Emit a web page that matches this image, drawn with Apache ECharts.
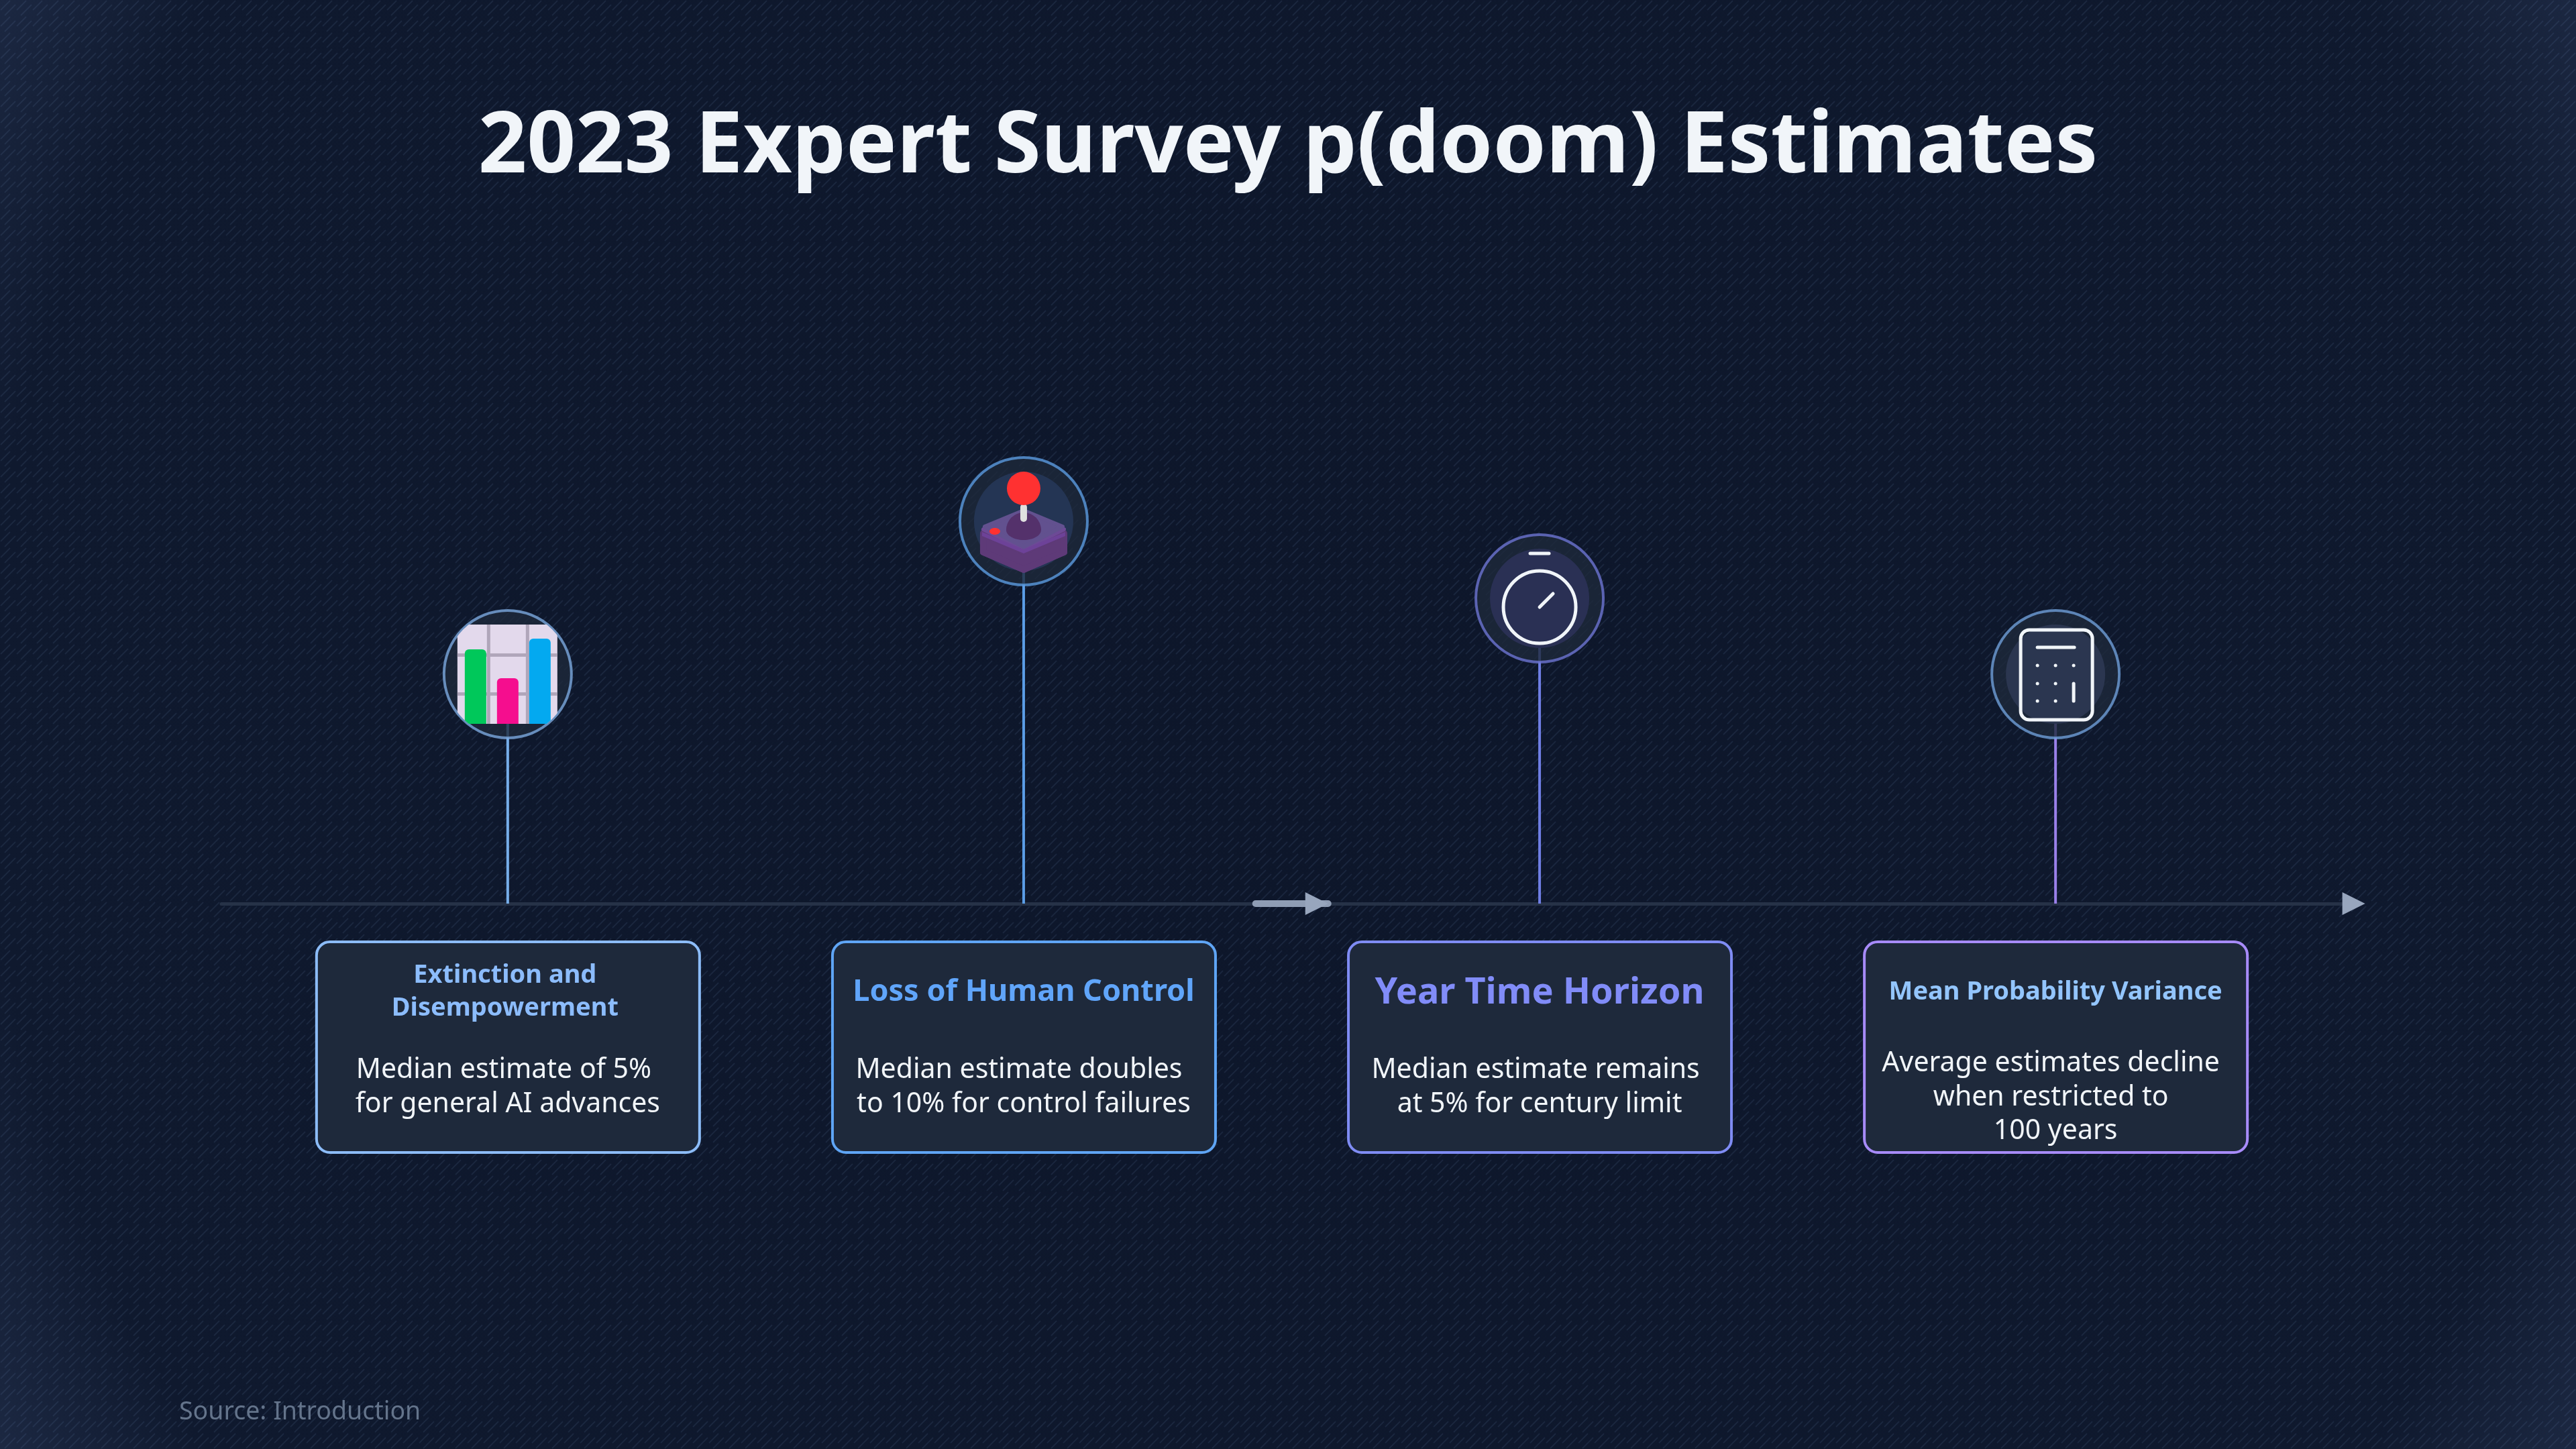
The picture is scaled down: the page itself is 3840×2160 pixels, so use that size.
<!DOCTYPE html>
<html>
<head>
<meta charset="utf-8">
<style>
  html, body { margin: 0; padding: 0; background: #0f172a; }
  #chart { width: 3840px; height: 2160px; }
</style>
<script src="https://cdn.jsdelivr.net/npm/echarts@6/dist/echarts.min.js"></script>
</head>
<body>
<div id="chart"></div>
<script>
// timeline content
let chartTitle = '2023 Expert Survey p(doom) Estimates'
let sourceText = 'Source: Introduction'
let stageIndex = [0, 1, 2, 3]
let stemHeights = [342, 570, 455, 342]
let cardTitles = [
  ['Extinction and', 'Disempowerment'],
  ['Loss of Human Control'],
  ['Year Time Horizon'],
  ['Mean Probability Variance']
]
let cardBodies = [
  ['Median estimate of 5%', 'for general AI advances'],
  ['Median estimate doubles', 'to 10% for control failures'],
  ['Median estimate remains', 'at 5% for century limit'],
  ['Average estimates decline', 'when restricted to', '100 years']
]

// styles
const FONT = '"Noto Sans", "Open Sans", sans-serif'
let stemColors = ['#76aeea', '#5b9de6', '#6f7ee4', '#9a80ea']
let ringColors = ['#7ca9de', '#5b9be0', '#6d74d2', '#6f9fd8']
let cardBorders = ['#8cbcf8', '#5fa5f5', '#7f8cf4', '#a78bfa']
let titleColors = ['#8cbcfc', '#60a5fa', '#818cf8', '#93c5fd']
let titleSizes = [38, 45, 54, 38]
let titleDx = [-4, 0, 0, 0]
let titleY = [[-107, -156], [-132], [-134], [-132]]
let bodyY = [[-248, -299], [-248, -299], [-248, -299], [-238, -289, -339]]
let bodyDx = [[-6, 0], [-7, 0], [-6, 0], [-7, -7, 0]]
let innerColors = [null, '#243554', '#2a3054', '#2b3650']

var chart = echarts.init(document.getElementById('chart'), null, { renderer: 'canvas' })

// small repeating diagonal hatch behind everything
function makeHatch() {
  let c = document.createElement('canvas')
  c.width = 24
  c.height = 24
  let g = c.getContext('2d')
  g.strokeStyle = 'rgba(130,160,210,0.11)'
  g.lineWidth = 2
  g.beginPath()
  g.moveTo(1, 15); g.lineTo(15, 1)
  g.moveTo(7, 23); g.lineTo(23, 7)
  g.stroke()
  return c
}

function line(x1, y1, x2, y2, color, w) {
  return { type: 'line', shape: { x1, y1, x2, y2 }, style: { stroke: color, lineWidth: w, lineCap: 'round', fill: null } }
}
function poly(points, color, round) {
  return { type: 'polygon', shape: { points }, style: { fill: color, stroke: color, lineWidth: round || 0, lineJoin: 'round' } }
}
function rrect(x, y, width, height, r, style) {
  return { type: 'rect', shape: { x, y, width, height, r }, style }
}

function barChartIcon(cx, cy) {
  let kids = [
    rrect(-75, -74, 149, 148, 0, { fill: '#e3d9ec' }),
    rrect(-31, -74, 5, 148, 0, { fill: '#b0a6ba' }),
    rrect(27, -74, 5, 148, 0, { fill: '#b0a6ba' }),
    rrect(-75, -31, 149, 5, 0, { fill: '#b0a6ba' }),
    rrect(-75, 27, 149, 5, 0, { fill: '#b0a6ba' }),
    rrect(-64, -37, 32, 111, [6, 6, 0, 0], { fill: '#00c85a' }),
    rrect(-16, 6, 32, 68, [6, 6, 0, 0], { fill: '#f50e8e' }),
    rrect(32, -53, 32, 127, [6, 6, 0, 0], { fill: '#03a9f0' })
  ]
  return { type: 'group', x: cx, y: cy, children: kids, clipPath: { type: 'circle', shape: { cx: 0, cy: 0, r: 94 } } }
}

function joystickIcon(cx, cy) {
  let kids = [
    poly([[-60, 20], [0, 72], [60, 20], [60, 46], [0, 72], [-60, 46]], '#5e3a78', 10),
    poly([[-60, 46], [-60, 18], [0, 46], [60, 18], [60, 46], [0, 72]], '#5e3a78', 10),
    poly([[-60, 12], [0, -14], [60, 12], [0, 42]], '#6d4a96', 6),
    poly([[-62, 16], [0, 42], [62, 16], [62, 22], [0, 48], [-62, 22]], '#6d4298', 0),
    poly([[-58, 8], [0, -16], [58, 8], [0, 38]], '#62518f', 6),
    { type: 'ellipse', shape: { cx: -43, cy: 15, rx: 8, ry: 5 }, style: { fill: '#ff3131' } },
    { type: 'ellipse', shape: { cx: 0, cy: 13, rx: 26, ry: 15 }, style: { fill: '#54316b' } },
    { type: 'sector', shape: { cx: 0, cy: 13, r0: 0, r: 26, startAngle: Math.PI, endAngle: 0, clockwise: true }, style: { fill: '#54316b' } },
    rrect(-5, -26, 10, 27, 5, { fill: '#e0e0e0' }),
    { type: 'circle', shape: { cx: 0, cy: -49, r: 25 }, style: { fill: '#ff3131' } }
  ]
  return { type: 'group', x: cx, y: cy, children: kids }
}

function stopwatchIcon(cx, cy) {
  let white = '#f1f5f9'
  let kids = [
    line(-14, -67, 14, -67, white, 5),
    { type: 'circle', shape: { cx: 0, cy: 13, r: 54 }, style: { fill: null, stroke: white, lineWidth: 5 } },
    line(0, 13, 20, -7, white, 5)
  ]
  return { type: 'group', x: cx, y: cy, children: kids }
}

function calculatorIcon(cx, cy) {
  let white = '#f1f5f9'
  let kids = [
    rrect(-52, -66, 107, 134, 13, { fill: null, stroke: white, lineWidth: 5 }),
    line(-27, -40, 28, -40, white, 5),
    line(27, 14, 27, 40, white, 5)
  ]
  let dots = [[-27, -13], [0, -13], [27, -13], [-27, 14], [0, 14], [-27, 40], [0, 40]]
  dots.forEach(d => {
    kids.push({ type: 'circle', shape: { cx: d[0], cy: d[1], r: 2.5 }, style: { fill: white } })
  })
  return { type: 'group', x: cx, y: cy, children: kids }
}

let iconDrawers = [barChartIcon, joystickIcon, stopwatchIcon, calculatorIcon]

function renderIcon(params, api) {
  let i = api.value(0)
  let p = api.coord([i, api.value(1)])
  let kids = []
  if (innerColors[i]) {
    kids.push({ type: 'circle', shape: { cx: p[0], cy: p[1], r: 74 }, style: { fill: innerColors[i] } })
  }
  kids.push(iconDrawers[i](p[0], p[1]))
  return { type: 'group', children: kids }
}

// card hangs below the axis at its stage
function renderCard(params, api) {
  let i = api.value(0)
  let top = api.coord([i, -57])
  let bottom = api.coord([i, -371])
  let cx = top[0]
  let kids = [
    rrect(cx - 285, top[1], 571, bottom[1] - top[1], 20, { fill: '#1e293b', stroke: cardBorders[i], lineWidth: 4 })
  ]
  cardTitles[i].forEach((t, k) => {
    let y = api.coord([i, titleY[i][k]])[1]
    kids.push({ type: 'text', style: { text: t, x: cx + titleDx[i], y, align: 'center', verticalAlign: 'middle', fill: titleColors[i], font: `700 ${titleSizes[i]}px ${FONT}` } })
  })
  cardBodies[i].forEach((t, k) => {
    let y = api.coord([i, bodyY[i][k]])[1]
    kids.push({ type: 'text', style: { text: t, x: cx + bodyDx[i][k], y, align: 'center', verticalAlign: 'middle', fill: '#f1f5f9', font: `400 41px ${FONT}` } })
  })
  return { type: 'group', children: kids }
}

// arrow heads on the axis, one mid way and one at the end
let arrowTips = [1.59, 3.6]
let arrowTails = [108, 0]
function renderArrow(params, api) {
  let i = params.dataIndex
  let p = api.coord([api.value(0), 0])
  let kids = []
  if (arrowTails[i]) {
    kids.push(line(p[0] - arrowTails[i], p[1], p[0], p[1], '#8f9db4', 10))
  }
  kids.push({ type: 'polygon', shape: { points: [[p[0] - 34, p[1] - 17], [p[0], p[1]], [p[0] - 34, p[1] + 17]] }, style: { fill: '#98a6bd' } })
  return { type: 'group', children: kids }
}

let stemData = stageIndex.map(i => ({ value: [i, stemHeights[i]], itemStyle: { color: stemColors[i] } }))
let ringData = stageIndex.map(i => ({
  value: [i, stemHeights[i]],
  itemStyle: { color: '#1e293b', borderColor: ringColors[i], borderWidth: 4 }
}))

let option = {
  animation: false,
  backgroundColor: {
    type: 'radial', x: 0.5, y: 0.5, r: 1.02,
    colorStops: [
      { offset: 0, color: '#0d162a' },
      { offset: 0.88, color: '#0f192e' },
      { offset: 1, color: '#1c2842' }
    ]
  },
  graphic: [{
    type: 'rect',
    z: -1,
    silent: true,
    shape: { x: 0, y: 0, width: 3840, height: 2160 },
    style: { fill: { image: makeHatch(), repeat: 'repeat' } }
  }],
  title: [
    {
      text: chartTitle,
      left: 'center',
      top: 152,
      textStyle: { color: '#f1f5f9', fontFamily: FONT, fontWeight: 700, fontSize: 127 }
    },
    {
      text: sourceText,
      left: 267,
      top: 2086,
      padding: 0,
      textStyle: { color: '#64748b', fontFamily: FONT, fontWeight: 400, fontSize: 37.5 }
    }
  ],
  grid: { left: 330, right: 349, top: 0, bottom: 0 },
  xAxis: {
    type: 'value',
    min: -0.555,
    max: 3.555,
    splitLine: { show: false },
    axisTick: { show: false },
    axisLabel: { show: false },
    axisLine: { show: true, onZero: true, lineStyle: { color: '#263247', width: 5 } }
  },
  yAxis: {
    type: 'value',
    min: -813,
    max: 1347,
    show: false,
    splitLine: { show: false }
  },
  series: [
    { type: 'bar', barWidth: 4, data: stemData, z: 2 },
    { type: 'custom', renderItem: renderArrow, data: arrowTips.map(v => [v, 0]), z: 3, clip: false },
    { type: 'scatter', symbol: 'circle', symbolSize: 190, data: ringData, z: 4, clip: false },
    { type: 'custom', renderItem: renderIcon, data: stemHeights.map((h, i) => [i, h]), z: 5, clip: false },
    { type: 'custom', renderItem: renderCard, data: stageIndex.map(i => [i, 0]), z: 6, clip: false }
  ]
}

chart.setOption(option)
</script>
</body>
</html>
